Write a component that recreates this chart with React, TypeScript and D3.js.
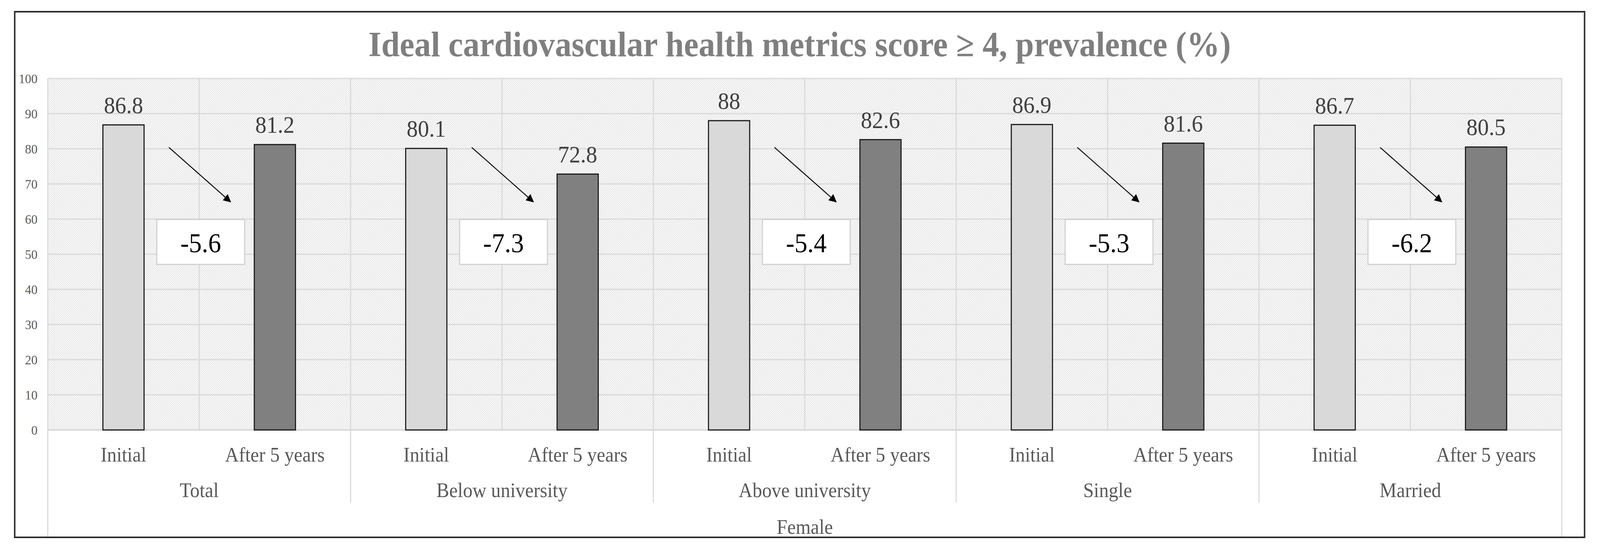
import React, { useEffect } from "react";
import * as d3 from "d3";

const groups = ["Total", "Below university", "Above university", "Single", "Married"];
const periods = ["Initial", "After 5 years"];
const initialValues = [86.8, 80.1, 88, 86.9, 86.7];
const after5Values = [81.2, 72.8, 82.6, 81.6, 80.5];
const changeLabels = ["-5.6", "-7.3", "-5.4", "-5.3", "-6.2"];
const yTicks = [0, 10, 20, 30, 40, 50, 60, 70, 80, 90, 100];
const superLabel = "Female";
const title = "Ideal cardiovascular health metrics score \u2265 4, prevalence (%)";

const W = 4353;
const H = 1411;
const FONT = "'Liberation Serif', 'Times New Roman', serif";

export default function App() {
  useEffect(() => {
    document.body.style.margin = "0";
    document.body.style.overflow = "hidden";
    document.documentElement.style.overflow = "hidden";
  }, []);

  const left = 130, right = 4249, top = 201, bottom = 1101;
  const y = d3.scaleLinear().domain([0, 100]).range([bottom, top]);
  const gx = d3.scaleBand<string>().domain(groups).range([left, right]).padding(0);
  const px = d3.scaleBand<string>().domain(periods).range([0, gx.bandwidth()]).padding(0);
  const step = px.bandwidth();
  const barW = step * 0.272;
  const gridColor = "#d9d9d9";

  const bars: { g: string; p: string; v: number; fill: string }[] = [];
  groups.forEach((g, i) => {
    bars.push({ g, p: periods[0], v: initialValues[i], fill: "#d9d9d9" });
    bars.push({ g, p: periods[1], v: after5Values[i], fill: "#808080" });
  });

  const catBoundaries: number[] = [];
  groups.forEach((g) => {
    periods.forEach((p, j) => {
      if (j > 0) catBoundaries.push((gx(g) as number) + (px(p) as number));
    });
  });
  const groupBoundaries = groups.slice(1).map((g) => gx(g) as number);

  return (
    <svg
      viewBox={`0 0 ${W} ${H}`}
      preserveAspectRatio="none"
      style={{ position: "fixed", left: 0, top: 0, width: "100vw", height: "100vh", background: "#fff", display: "block" }}
      fontFamily={FONT}
    >
      <defs>
        <pattern id="hatch" patternUnits="userSpaceOnUse" width={4} height={8} patternTransform="rotate(-45)">
          <rect x={0} y={0} width={4} height={8} fill="#fdfdfd" />
          <rect x={0} y={0} width={1.7} height={8} fill="#e0e0e0" />
        </pattern>
        <marker id="arrowHead" viewBox="0 0 10 10" refX={9} refY={5} markerWidth={9} markerHeight={8} markerUnits="strokeWidth" orient="auto">
          <path d="M0,0 L10,5 L0,10 z" fill="#000" />
        </marker>
      </defs>
      <rect x={0} y={0} width={W} height={H} fill="#fff" />
      <rect x={40} y={30} width={4271} height={1346} fill="#fff" stroke="#2a2a2a" strokeWidth={4} />

      <text x={(40 + 4311) / 2} y={144} textAnchor="middle" fontSize={90} fontWeight="bold" fill="#7f7f7f">
        {title}
      </text>

      {/* plot background */}
      <rect x={left} y={top} width={right - left} height={bottom - top} fill="url(#hatch)" />

      {/* horizontal gridlines */}
      {yTicks.map((t) => (
        <line key={"h" + t} x1={left} x2={right} y1={y(t)} y2={y(t)} stroke={gridColor} strokeWidth={t === 0 ? 4 : 3} />
      ))}
      {/* vertical category gridlines */}
      {catBoundaries.map((x, i) => (
        <line key={"c" + i} x1={x} x2={x} y1={top} y2={bottom} stroke={gridColor} strokeWidth={3} />
      ))}
      {groupBoundaries.map((x, i) => (
        <line key={"g" + i} x1={x} x2={x} y1={top} y2={1287} stroke={gridColor} strokeWidth={3} />
      ))}
      <line x1={left} x2={left} y1={top} y2={1374} stroke={gridColor} strokeWidth={3} />
      <line x1={right} x2={right} y1={top} y2={1374} stroke={gridColor} strokeWidth={3} />

      {/* y tick labels */}
      {yTicks.map((t) => (
        <text key={"t" + t} x={102} y={y(t)} dy="0.35em" textAnchor="end" fontSize={34} fill="#595959">
          {t}
        </text>
      ))}

      {/* bars */}
      {bars.map((b, i) => {
        const cx = (gx(b.g) as number) + (px(b.p) as number) + step / 2;
        return (
          <g key={"b" + i}>
            <rect x={cx - barW / 2} y={y(b.v)} width={barW} height={y(0) - y(b.v)} fill={b.fill} stroke="#1a1a1a" strokeWidth={3} />
            <text x={cx} y={y(b.v) - 30} textAnchor="middle" fontSize={61} fill="#404040">
              {String(b.v)}
            </text>
          </g>
        );
      })}

      {/* change annotations */}
      {groups.map((g, i) => {
        const g0 = gx(g) as number;
        const ax0 = g0 + step * 0.8;
        const ax1 = g0 + step * 1.207;
        const bx0 = g0 + step * 0.72;
        const bx1 = g0 + step * 1.3;
        return (
          <g key={"a" + i}>
            <line x1={ax0} y1={y(80.4)} x2={ax1} y2={y(64.9)} stroke="#111" strokeWidth={2.6} markerEnd="url(#arrowHead)" />
            <rect x={bx0} y={y(59.9)} width={bx1 - bx0} height={y(47.1) - y(59.9)} fill="#fff" stroke="#d0d0d0" strokeWidth={3} />
            <text x={(bx0 + bx1) / 2} y={y(50.6)} textAnchor="middle" fontSize={70} fill="#000">
              {changeLabels[i]}
            </text>
          </g>
        );
      })}

      {/* category labels */}
      {groups.map((g) =>
        periods.map((p) => (
          <text key={g + p} x={(gx(g) as number) + (px(p) as number) + step / 2} y={1182} textAnchor="middle" fontSize={52} fill="#595959">
            {p}
          </text>
        ))
      )}
      {groups.map((g) => (
        <text key={"gl" + g} x={(gx(g) as number) + gx.bandwidth() / 2} y={1273} textAnchor="middle" fontSize={52} fill="#595959">
          {g}
        </text>
      ))}
      <text x={(left + right) / 2} y={1367} textAnchor="middle" fontSize={52} fill="#595959">
        {superLabel}
      </text>
    </svg>
  );
}
